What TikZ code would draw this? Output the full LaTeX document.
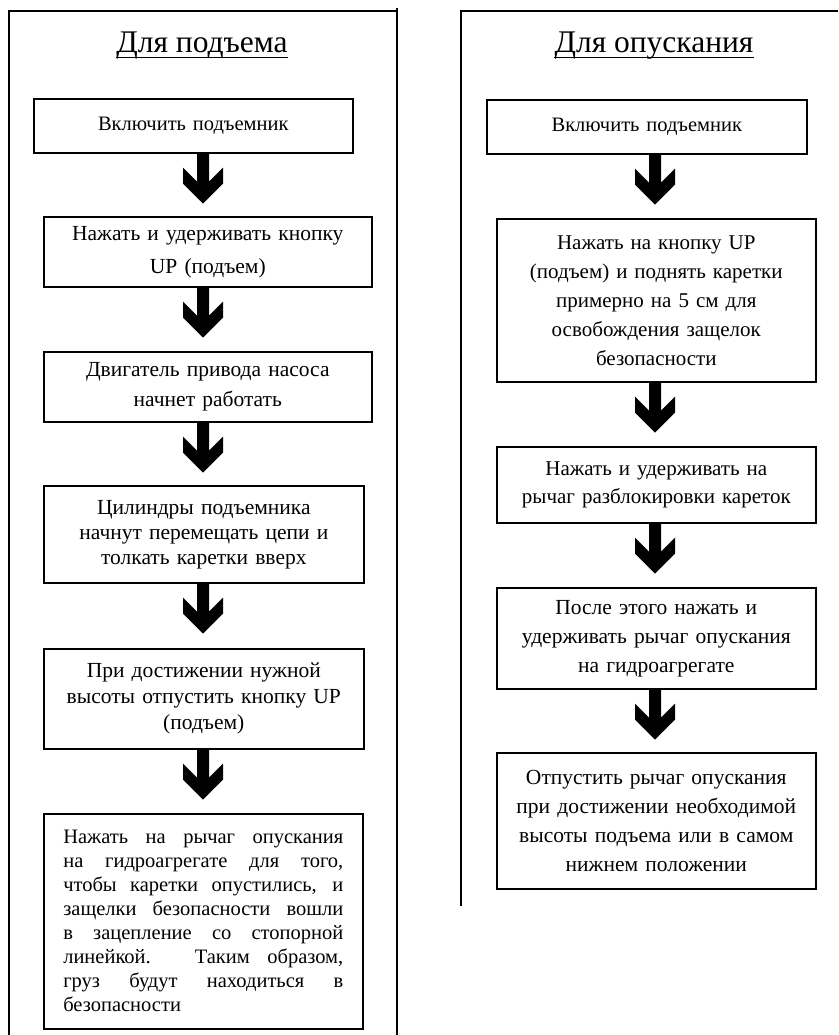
\documentclass[tikz,border=0pt]{standalone}
\usepackage{fontspec}
\setmainfont{Liberation Serif}
\usetikzlibrary{calc}

\tikzset{
  panel/.style={black, line width=2.6pt},
  stepbox/.style={draw=black, line width=1.6pt, anchor=north west, align=center, inner sep=0pt},
  textbox/.style={stepbox, align=justify},
  heading/.style={anchor=base, inner sep=0pt, font=\fontsize{31.5}{34}\selectfont},
  fatarrow/.style={fill=black},
}
% thick block arrow under a box, #1 = x of its axis, #2 = box above
\newcommand{\fatdown}[2]{%
  \fill[fatarrow, shift={(#1,0 |- #2.south)}]
    (-6,0) -- (6,0) -- (6,28) -- (20,14) -- (20,30) -- (0,50)
    -- (-20,30) -- (-20,14) -- (-6,28) -- cycle;}

\begin{document}
\begin{tikzpicture}[x=1pt, y=-1pt]
                    \useasboundingbox (0,0) rectangle (838,1035);

                    % panels
                    \draw[panel] (9,1035) -- (9,11) -- (397,11);
                    \draw[panel] (397,8) -- (397,1035);
                    \draw[panel] (461,906) -- (461,11) -- (838,11);

                    \node[heading] (up) at (202,53) {Для подъема};
                    \node[heading] (down) at (654,53) {Для опускания};
                    \draw[line width=1.4pt] ([yshift=-4.5pt]up.base west) -- ([yshift=-4.5pt]up.base east);
                    \draw[line width=1.4pt] ([yshift=-4.5pt]down.base west) -- ([yshift=-4.5pt]down.base east);

                    % left column
                    \node[stepbox, minimum width=319pt, minimum height=54pt, text width=310pt,
                          font=\fontsize{20.5}{24}\selectfont] (l1) at (33,98) {Включить подъемник};
                    \node[stepbox, minimum width=328pt, minimum height=70pt, text width=318pt,
                          font=\fontsize{21.5}{33}\selectfont] (l2) at (43,216)
                          {Нажать и удерживать кнопку\\UP (подъем)};
                    \node[stepbox, minimum width=328pt, minimum height=70pt, text width=318pt,
                          font=\fontsize{21.5}{30}\selectfont] (l3) at (43,351)
                          {Двигатель привода насоса\\начнет работать};
                    \node[stepbox, minimum width=320pt, minimum height=97pt, text width=310pt,
                          font=\fontsize{21.5}{25}\selectfont] (l4) at (43,485)
                          {Цилиндры подъемника\\начнут перемещать цепи и\\толкать каретки вверх};
                    \node[stepbox, minimum width=320pt, minimum height=100pt, text width=310pt,
                          font=\fontsize{21.5}{26}\selectfont] (l5) at (43,648)
                          {При достижении нужной\\высоты отпустить кнопку UP\\(подъем)};
                    \node[textbox, minimum width=319pt, minimum height=215pt, text width=280pt,
                          font=\fontsize{20.5}{24}\selectfont] (l6) at (43,813)
                          {Нажать на рычаг опускания\linebreak на гидроагрегате для того,\linebreak
                           чтобы каретки опустились, и\linebreak защелки безопасности вошли\linebreak
                           в зацепление со стопорной\linebreak линейкой. Таким образом,\linebreak
                           груз будут находиться в\linebreak безопасности};

                    \fatdown{203}{l1}
                    \fatdown{203}{l2}
                    \fatdown{203}{l3}
                    \fatdown{203}{l4}
                    \fatdown{203}{l5}

                    % right column
                    \node[stepbox, minimum width=320pt, minimum height=54pt, text width=310pt,
                          font=\fontsize{20.5}{24}\selectfont] (r1) at (486,99) {Включить подъемник};
                    \node[stepbox, minimum width=319pt, minimum height=163pt, text width=310pt,
                          font=\fontsize{21}{29}\selectfont] (r2) at (496,218)
                          {Нажать на кнопку UP\\(подъем) и поднять каретки\\примерно на 5 см для\\освобождения защелок\\безопасности};
                    \node[stepbox, minimum width=319pt, minimum height=76pt, text width=312pt,
                          font=\fontsize{21}{28}\selectfont] (r3) at (496,446)
                          {Нажать и удерживать на\\рычаг разблокировки кареток};
                    \node[stepbox, minimum width=319pt, minimum height=101pt, text width=310pt,
                          font=\fontsize{21.5}{29}\selectfont] (r4) at (496,587)
                          {После этого нажать и\\удерживать рычаг опускания\\на гидроагрегате};
                    \node[stepbox, minimum width=319pt, minimum height=136pt, text width=310pt,
                          font=\fontsize{21.5}{29}\selectfont] (r5) at (496,752)
                          {Отпустить рычаг опускания\\при достижении необходимой\\высоты подъема или в самом\\нижнем положении};

                    \fatdown{655}{r1}
                    \fatdown{655}{r2}
                    \fatdown{655}{r3}
                    \fatdown{655}{r4}
\end{tikzpicture}
\end{document}
